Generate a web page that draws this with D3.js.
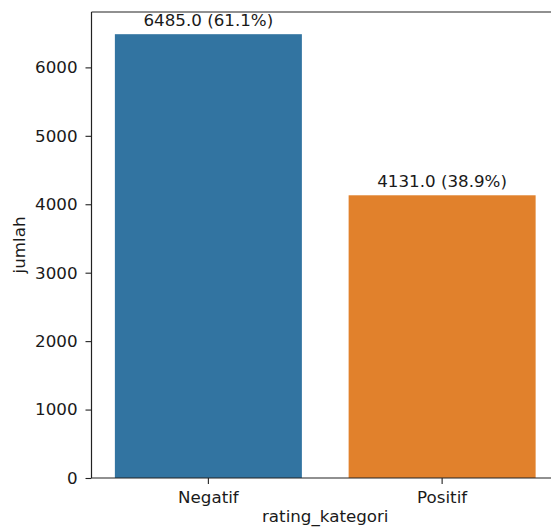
<!DOCTYPE html>
<html><head><meta charset="utf-8">
<script src="https://cdn.jsdelivr.net/npm/d3@7"></script>
<style>body{margin:0;background:#fff}svg{display:block}text{font-family:"DejaVu Sans",sans-serif;fill:#1a1a1a}</style>
</head><body><svg id="c" width="551" height="528"></svg>
<script>
const categories = ["Negatif", "Positif"];
const counts = [6485, 4131];
const colors = ["#3274a1", "#e1812c"];
const yTicks = [0, 1000, 2000, 3000, 4000, 5000, 6000];
const xTitle = "rating_kategori";
const yTitle = "jumlah";

const svg = d3.select("#c");
const L = 91.5, R = 559, T = 12, B = 478;
const total = d3.sum(counts);
const x = d3.scaleBand().domain(categories).range([L, R]).paddingInner(0.2).paddingOuter(0.1);
const y = d3.scaleLinear().domain([0, d3.max(counts) * 1.05]).range([B, T]);

svg.selectAll("rect.bar").data(categories).join("rect").attr("class","bar")
  .attr("x", d => x(d)).attr("width", x.bandwidth())
  .attr("y", (d,i) => y(counts[i])).attr("height", (d,i) => B - y(counts[i]))
  .attr("fill", (d,i) => colors[i]);

const fs = "16.7px";
const ya = svg.append("g").attr("transform", `translate(${L},0)`)
  .call(d3.axisLeft(y).tickValues(yTicks).tickFormat(d3.format("d")).tickSize(6).tickPadding(8));
const xa = svg.append("g").attr("transform", `translate(0,${B})`)
  .call(d3.axisBottom(x).tickSize(6).tickPadding(7));
[ya, xa].forEach(g => {
  g.select(".domain").remove();
  g.selectAll("line").attr("stroke", "#222").attr("stroke-width", 1.1);
  g.selectAll("text").style("font-size", fs).style("font-family", '"DejaVu Sans",sans-serif').attr("fill", "#1a1a1a");
});

// spines
svg.append("line").attr("x1", L).attr("x2", L).attr("y1", T).attr("y2", B).attr("stroke", "#222").attr("stroke-width", 1.2);
svg.append("line").attr("x1", L).attr("x2", 551).attr("y1", B).attr("y2", B).attr("stroke", "#222").attr("stroke-width", 1.2);
svg.append("line").attr("x1", L).attr("x2", 551).attr("y1", T).attr("y2", T).attr("stroke", "#222").attr("stroke-width", 1.2);

// bar labels
svg.selectAll("text.lbl").data(categories).join("text").attr("class","lbl")
  .attr("x", d => x(d) + x.bandwidth()/2)
  .attr("y", (d,i) => y(counts[i]) - 8)
  .attr("text-anchor", "middle").style("font-size", fs)
  .text((d,i) => `${counts[i].toFixed(1)} (${(counts[i]/total*100).toFixed(1)}%)`);

svg.append("text").attr("x", (L+R)/2).attr("y", 522).attr("text-anchor","middle").style("font-size", fs).text(xTitle);
svg.append("text").attr("transform", `translate(25,${(T+B)/2}) rotate(-90)`).attr("text-anchor","middle").style("font-size", fs).text(yTitle);
</script></body></html>
